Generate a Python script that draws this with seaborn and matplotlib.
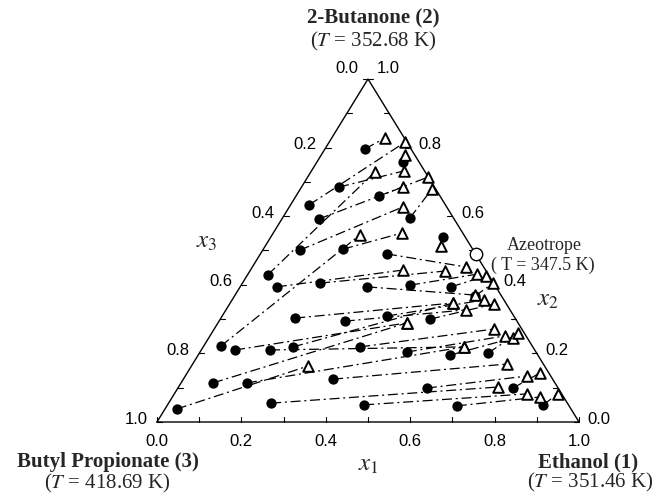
import numpy as np
import pandas as pd
import matplotlib
matplotlib.use("Agg")
import matplotlib.pyplot as plt
import seaborn as sns

# Liquid-phase mole fractions (x1 = ethanol, x2 = 2-butanone)
liq_x1 = [0.095, 0.044, 0.204, 0.089, 0.197, 0.302, 0.088, 0.048, 0.088, 0.041,
          0.189, 0.408, 0.087, 0.184, 0.300, 0.400, 0.500, 0.570, 0.301, 0.391,
          0.497, 0.176, 0.298, 0.076, 0.372, 0.490, 0.597, 0.684, 0.156, 0.355,
          0.590, 0.794, 0.243, 0.466, 0.687, 0.890, 0.028, 0.080, 0.163, 0.213]
liq_x2 = [0.796, 0.633, 0.758, 0.685, 0.659, 0.595, 0.592, 0.429, 0.501, 0.222,
          0.504, 0.539, 0.394, 0.405, 0.490, 0.399, 0.394, 0.367, 0.394, 0.309,
          0.300, 0.303, 0.294, 0.114, 0.219, 0.204, 0.195, 0.201, 0.114, 0.125,
          0.099, 0.099, 0.055, 0.050, 0.047, 0.050, 0.038, 0.210, 0.210, 0.219]

# Vapour-phase mole fractions in equilibrium (y1 = ethanol, y2 = 2-butanone)
vap_y1 = [0.126, 0.180, 0.199, 0.219, 0.285, 0.312, 0.240, 0.152, 0.269, 0.208,
          0.305, 0.416, 0.361, 0.462, 0.506, 0.543, 0.567, 0.594, 0.569, 0.597,
          0.627, 0.528, 0.569, 0.448, 0.663, 0.699, 0.721, 0.726, 0.618, 0.745,
          0.810, 0.836, 0.757, 0.836, 0.871, 0.909, 0.276, 0.448, 0.618, 0.528]
vap_y2 = [0.828, 0.816, 0.778, 0.732, 0.714, 0.679, 0.685, 0.729, 0.627, 0.545,
          0.551, 0.513, 0.443, 0.440, 0.452, 0.431, 0.426, 0.405, 0.370, 0.356,
          0.344, 0.347, 0.327, 0.289, 0.271, 0.251, 0.245, 0.259, 0.219, 0.169,
          0.134, 0.143, 0.102, 0.082, 0.073, 0.082, 0.163, 0.289, 0.219, 0.347]

# Binary azeotrope ethanol + 2-butanone
azeo_x1 = 0.51
azeo_x2 = 0.49

tick_values = [0.0, 0.1, 0.2, 0.3, 0.4, 0.5, 0.6, 0.7, 0.8, 0.9, 1.0]
label_values = [0.0, 0.2, 0.4, 0.6, 0.8, 1.0]

W, H = 654, 493
sns.set_theme(style="white")
plt.rcParams["font.family"] = ["Liberation Serif", "DejaVu Serif"]
plt.rcParams["mathtext.fontset"] = "stix"

fig = plt.figure(figsize=(W / 100, H / 100), dpi=100)
fig.patch.set_facecolor("white")
# triangle box: left corner at (157, 422) px, right corner (579, 422), apex y = 79
L, R, B, T = 157, 579, 422, 79
ax = fig.add_axes([L / W, 1 - B / H, (R - L) / W, (B - T) / H])
sx = 1.0 / (R - L)   # data units per pixel, horizontal
sy = 1.0 / (B - T)   # data units per pixel, vertical


def cart(a1, a2):
    a1 = np.asarray(a1, float)
    a2 = np.asarray(a2, float)
    return a1 + 0.5 * a2, a2


# frame
fx, fy = cart([0, 1, 0, 0], [0, 0, 1, 0])
ax.plot(fx, fy, color="black", lw=1.0, clip_on=False, solid_joinstyle="miter")

# inward ticks
tl = 5
for v in tick_values:
    # bottom edge (x1)
    ax.plot([v, v], [0, tl * sy], color="black", lw=0.8, clip_on=False)
    # left edge (x3): x1 = 0, x2 = 1 - v
    X, Y = cart(0, 1 - v)
    ax.plot([X, X + tl * sx], [Y, Y], color="black", lw=0.8, clip_on=False)
    # right edge (x2)
    X, Y = cart(1 - v, v)
    ax.plot([X, X - tl * sx], [Y, Y], color="black", lw=0.8, clip_on=False)

tick_font = dict(family="Liberation Sans", fontsize=12, color="black")
for v in label_values:
    ax.text(v, -20 * sy, f"{v:.1f}", ha="center", va="center", **tick_font)
    X, Y = cart(0, 1 - v)
    dy = 10 if v == 0.0 else 3
    ax.text(X - 21 * sx, Y + dy * sy, f"{v:.1f}", ha="center", va="center", **tick_font)
    X, Y = cart(1 - v, v)
    dy = 10 if v == 1.0 else 3
    ax.text(X + 20 * sx, Y + dy * sy, f"{v:.1f}", ha="center", va="center", **tick_font)

# tie lines joining each liquid point to its vapour point
n = len(liq_x1)
lx, ly = cart(liq_x1, liq_x2)
vx, vy = cart(vap_y1, vap_y2)
ties = pd.DataFrame({
    "X": np.concatenate([lx, vx]),
    "Y": np.concatenate([ly, vy]),
    "tie": np.concatenate([np.arange(n), np.arange(n)]),
})
n_before = len(ax.lines)
sns.lineplot(data=ties, x="X", y="Y", units="tie", estimator=None, sort=False,
             color="black", lw=0.9, ax=ax, legend=False)
for line in ax.lines[n_before:]:
    line.set_dashes((8, 3, 1.6, 3))
    line.set_clip_on(False)

liq = pd.DataFrame({"X": lx, "Y": ly})
vap = pd.DataFrame({"X": vx, "Y": vy})
sns.scatterplot(data=liq, x="X", y="Y", marker="o", s=55, color="black",
                edgecolor="black", linewidth=0, ax=ax, zorder=4, clip_on=False)
sns.scatterplot(data=vap, x="X", y="Y", marker="^", s=58, facecolor="white",
                edgecolor="black", linewidth=1.4, ax=ax, zorder=5, clip_on=False)

zx, zy = cart([azeo_x1], [azeo_x2])
sns.scatterplot(x=zx, y=zy, marker="o", s=80, facecolor="white",
                edgecolor="black", linewidth=1.0, ax=ax, zorder=6, clip_on=False)
ax.set_xlim(0, 1)
ax.set_ylim(0, 1)
ax.axis("off")


def ftext(xp, yp, s, **kw):
    fig.text(xp / W, 1 - yp / H, s, ha="center", va="center", **kw)


ftext(373, 18, "2-Butanone (2)", fontsize=15, fontweight="bold")
ftext(373, 41, r"($T$ = 352.68 K)", fontsize=15)
ftext(108, 462, "Butyl Propionate (3)", fontsize=15, fontweight="bold")
ftext(107, 483, r"($T$ = 418.69 K)", fontsize=15)
ftext(588, 462, "Ethanol (1)", fontsize=15, fontweight="bold")
ftext(590, 482, r"($T$ = 351.46 K)", fontsize=15)
ftext(544, 245, "Azeotrope", fontsize=13)
ftext(543, 265, "( T = 347.5 K)", fontsize=13)

ftext(368, 465, r"$x_1$", fontsize=18)
ftext(548, 300, r"$x_2$", fontsize=18)
ftext(207, 242, r"$x_3$", fontsize=18)

fig.savefig("out.png", dpi=100, facecolor="white")
